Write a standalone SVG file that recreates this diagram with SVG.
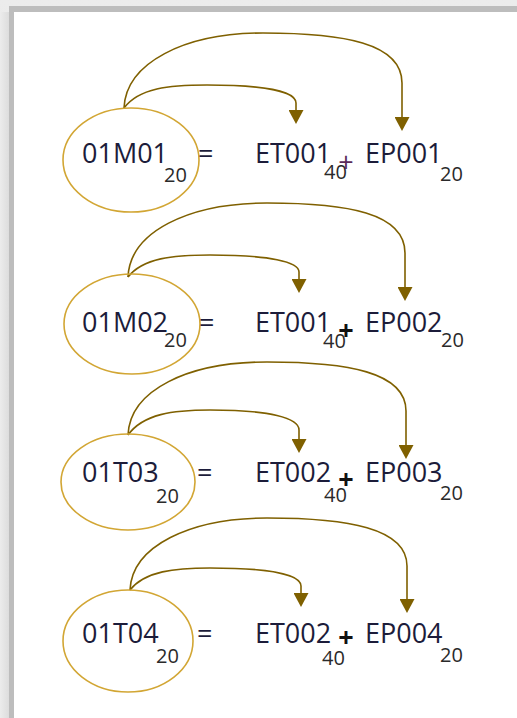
<svg xmlns="http://www.w3.org/2000/svg" width="517" height="718" viewBox="0 0 517 718">
<defs>
<linearGradient id="gTop" x1="0" y1="0" x2="0" y2="1"><stop offset="0" stop-color="#ececec"/><stop offset="1" stop-color="#d4d4d4"/></linearGradient>
<linearGradient id="gLeft" x1="0" y1="0" x2="1" y2="0"><stop offset="0" stop-color="#ececec"/><stop offset="1" stop-color="#d4d4d4"/></linearGradient>
<marker id="ah" markerUnits="userSpaceOnUse" markerWidth="14" markerHeight="15" refX="0" refY="7.5" orient="auto"><path d="M0,0 L14,7.5 L0,15 z" fill="#7f6000"/></marker>
<style>
.ell{fill:none;stroke:#d2a634;stroke-width:1.6}
.arr{fill:none;stroke:#7f6000;stroke-width:1.6;marker-end:url(#ah)}
.t{font-family:"Open Sans","Noto Sans",sans-serif;font-size:27px;fill:#1c1c3a}
.s{font-family:"Open Sans","Noto Sans",sans-serif;font-size:20px;fill:#2a2a2a}
.p{font-family:"Open Sans","Noto Sans",sans-serif;font-size:27px;font-weight:bold;fill:#111;text-anchor:middle}
.p1{font-family:"Open Sans","Noto Sans",sans-serif;font-size:27px;fill:#5a2a5a;text-anchor:middle}
</style>
</defs>
<g id="frame">
<rect x="0" y="0" width="517" height="718" fill="url(#gTop)"/>
<rect x="0" y="12" width="14" height="706" fill="url(#gLeft)"/>
<rect x="9" y="6" width="508" height="6" fill="#bdbdbd"/>
<rect x="9" y="6" width="5" height="712" fill="#bdbdbd"/>
<rect x="14" y="12" width="503" height="706" fill="#ffffff"/>
</g>
<g id="connectors">
<path class="arr" d="M124,108 C126,63 184,33 263,33 C343,33 402,43 402,83 L402,117"/>
<path class="arr" d="M124,108 C139,88 169,85 207,85 C267,85 296,92 296,103 L296,110"/>
<path class="arr" d="M128,277 C130,232 188,203 267,203 C347,203 405,213 405,253 L405,287"/>
<path class="arr" d="M128,277 C143,258 173,255 210,255 C270,255 299,262 299,272 L299,279"/>
<path class="arr" d="M128,435 C130,390 188,362 267,362 C347,362 406,372 406,411 L406,445"/>
<path class="arr" d="M128,435 C143,414 173,410 210,410 C270,410 299,418 299,430 L299,439"/>
<path class="arr" d="M130,590 C132,546 190,518 267,518 C347,518 407,528 407,566 L407,599"/>
<path class="arr" d="M130,590 C145,571 175,568 210,568 C272,568 301,575 301,586 L301,593"/>
</g>
<g id="row1">
<ellipse class="ell" cx="131" cy="160" rx="68" ry="52"/>
<text class="t" x="82" y="163">01M01</text>
<text class="s" x="164" y="182">20</text>
<text class="t" x="198" y="163">=</text>
<text class="t" x="255" y="163">ET001</text>
<text class="s" x="324" y="179">40</text>
<text class="p1" x="346" y="172">+</text>
<text class="t" x="365" y="163">EP001</text>
<text class="s" x="440" y="181">20</text>
</g>
<g id="row2">
<ellipse class="ell" cx="132" cy="324" rx="68" ry="50"/>
<text class="t" x="82" y="332">01M02</text>
<text class="s" x="164" y="347">20</text>
<text class="t" x="199" y="332">=</text>
<text class="t" x="255" y="332">ET001</text>
<text class="s" x="323" y="348">40</text>
<text class="p" x="346" y="340">+</text>
<text class="t" x="365" y="332">EP002</text>
<text class="s" x="441" y="347">20</text>
</g>
<g id="row3">
<ellipse class="ell" cx="128" cy="482" rx="67" ry="48"/>
<text class="t" x="82" y="482">01T03</text>
<text class="s" x="156" y="503">20</text>
<text class="t" x="197" y="482">=</text>
<text class="t" x="255" y="482">ET002</text>
<text class="s" x="324" y="502">40</text>
<text class="p" x="346" y="489">+</text>
<text class="t" x="365" y="482">EP003</text>
<text class="s" x="440" y="500">20</text>
</g>
<g id="row4">
<ellipse class="ell" cx="128" cy="641" rx="65" ry="51"/>
<text class="t" x="82" y="643">01T04</text>
<text class="s" x="156" y="663">20</text>
<text class="t" x="197" y="643">=</text>
<text class="t" x="255" y="643">ET002</text>
<text class="s" x="322" y="665">40</text>
<text class="p" x="346" y="647">+</text>
<text class="t" x="365" y="643">EP004</text>
<text class="s" x="440" y="662">20</text>
</g>
</svg>
